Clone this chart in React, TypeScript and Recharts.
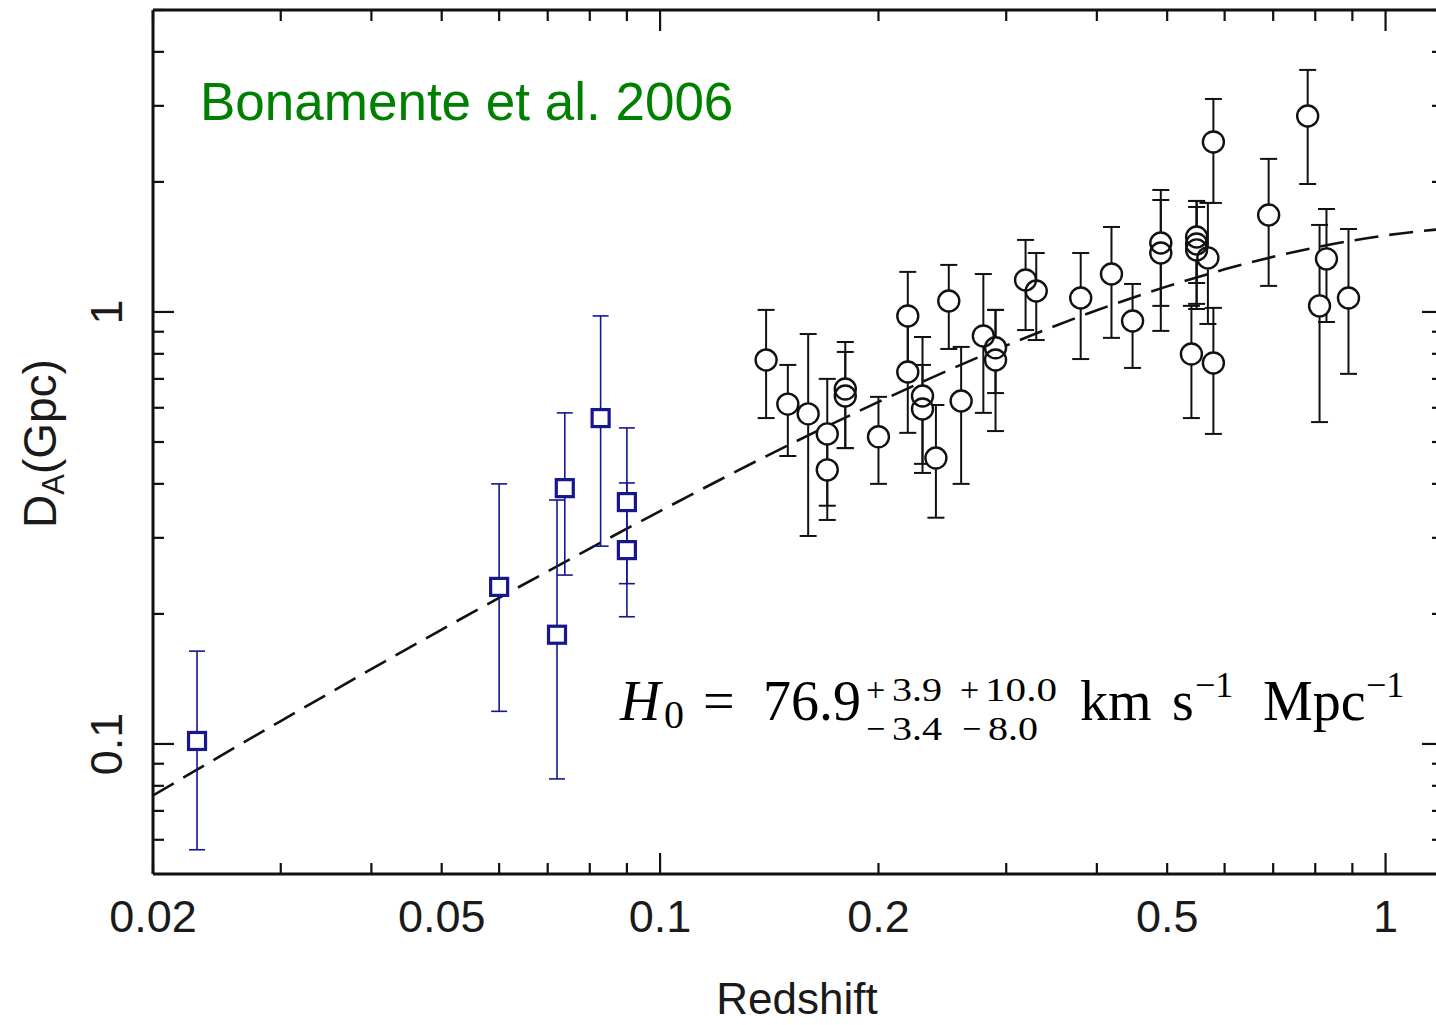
import React from "react";
import {
  ComposedChart,
  Scatter,
  Line,
  XAxis,
  YAxis,
  ErrorBar,
} from "recharts";

// low-z clusters (blue squares)
const LOWZ_Z = [0.023, 0.06, 0.0721, 0.0739, 0.0828, 0.09, 0.09];
const LOWZ_DA = [0.1016, 0.231, 0.179, 0.391, 0.568, 0.363, 0.281];
const LOWZ_LO = [0.0569, 0.119, 0.083, 0.246, 0.287, 0.235, 0.197];
const LOWZ_HI = [0.164, 0.4, 0.367, 0.584, 0.979, 0.539, 0.402];

// Chandra + SZ clusters (black circles)
const CL_Z = [
  0.14, 0.15, 0.16, 0.17, 0.17, 0.18, 0.18, 0.2, 0.2195, 0.2195, 0.23, 0.23,
  0.24, 0.25, 0.26, 0.279, 0.29, 0.29, 0.319, 0.33, 0.38, 0.419, 0.448, 0.49,
  0.49, 0.54, 0.549, 0.549, 0.549, 0.569, 0.579, 0.579, 0.69, 0.781, 0.811,
  0.829, 0.889,
];
const CL_DA = [
  0.774, 0.612, 0.581, 0.522, 0.431, 0.663, 0.639, 0.514, 0.979, 0.726, 0.639,
  0.596, 0.459, 1.06, 0.622, 0.88, 0.826, 0.774, 1.186, 1.118, 1.077, 1.224,
  0.953, 1.444, 1.369, 0.799, 1.491, 1.437, 1.392, 1.334, 2.475, 0.762, 1.677,
  2.842, 1.033, 1.327, 1.077,
];
const CL_LO = [
  0.568, 0.464, 0.303, 0.356, 0.33, 0.484, 0.484, 0.4, 0.726, 0.525, 0.445,
  0.424, 0.334, 0.821, 0.4, 0.584, 0.649, 0.53, 0.908, 0.861, 0.778, 0.871,
  0.742, 1.033, 0.904, 0.568, 1.167, 1.044, 1.016, 0.938, 1.788, 0.522, 1.149,
  1.978, 0.556, 0.948, 0.719,
];
const CL_HI = [
  1.011, 0.754, 0.889, 0.7, 0.522, 0.852, 0.808, 0.636, 1.238, 0.979, 0.875,
  0.754, 0.609, 1.285, 0.83, 1.224, 1.011, 1.011, 1.468, 1.369, 1.369, 1.573,
  1.161, 1.916, 1.816, 1.033, 1.807, 1.807, 1.75, 1.788, 3.112, 1.022, 2.261,
  3.633, 1.59, 1.731, 1.556,
];

// best-fit curve (dashed)
const MODEL_Z = [0.02, 0.03, 0.05, 0.07, 0.1, 0.15, 0.2, 0.3, 0.4, 0.5, 0.6, 0.7, 0.8, 0.9, 1.0, 1.2];
const MODEL_DA = [0.076, 0.113, 0.184, 0.251, 0.346, 0.491, 0.619, 0.836, 1.009, 1.146, 1.255, 1.342, 1.41, 1.463, 1.504, 1.557];

const X_TICKS = [
  0.02, 0.03, 0.04, 0.05, 0.06, 0.07, 0.08, 0.09, 0.1, 0.2, 0.3, 0.4, 0.5, 0.6,
  0.7, 0.8, 0.9, 1,
];
const X_LABELS = [0.02, 0.05, 0.1, 0.2, 0.5, 1];
const Y_TICKS = [
  0.06, 0.07, 0.08, 0.09, 0.1, 0.2, 0.3, 0.4, 0.5, 0.6, 0.7, 0.8, 0.9, 1, 2, 3,
  4, 5,
];
const Y_LABELS = [0.1, 1];
const MAJOR = [0.1, 1];

const INK = "#111";
const BLUE = "#16168e";
const SANS = "'Liberation Sans', Arial, Helvetica, sans-serif";
const SERIF = "'Liberation Serif', 'Times New Roman', serif";

const lowz = LOWZ_Z.map((x, i) => ({
  x,
  y: LOWZ_DA[i],
  err: [LOWZ_DA[i] - LOWZ_LO[i], LOWZ_HI[i] - LOWZ_DA[i]],
}));
const clusters = CL_Z.map((x, i) => ({
  x,
  y: CL_DA[i],
  err: [CL_DA[i] - CL_LO[i], CL_HI[i] - CL_DA[i]],
}));
const model = MODEL_Z.map((x, i) => ({ x, y: MODEL_DA[i] }));

const tickLen = (v: number) => (MAJOR.includes(v) ? 21 : 11);

const BottomTick = (p: any) => {
  const v = p.payload.value;
  return (
    <g>
      <line x1={p.x} x2={p.x} y1={p.y} y2={p.y - tickLen(v)} stroke={INK} strokeWidth={2.2} />
      {X_LABELS.includes(v) && (
        <text x={p.x} y={p.y + 58} textAnchor="middle" fontSize={45} fontFamily={SANS} fill="#1a1a1a">
          {String(v)}
        </text>
      )}
    </g>
  );
};

const TopTick = (p: any) => {
  const v = p.payload.value;
  return <line x1={p.x} x2={p.x} y1={p.y} y2={p.y + tickLen(v)} stroke={INK} strokeWidth={2.2} />;
};

const LeftTick = (p: any) => {
  const v = p.payload.value;
  return (
    <g>
      <line x1={p.x} x2={p.x + tickLen(v)} y1={p.y} y2={p.y} stroke={INK} strokeWidth={2.2} />
      {Y_LABELS.includes(v) && (
        <text
          x={122}
          y={p.y}
          transform={`rotate(-90 122 ${p.y})`}
          textAnchor="middle"
          fontSize={45}
          fontFamily={SANS}
          fill="#1a1a1a"
        >
          {String(v)}
        </text>
      )}
    </g>
  );
};

const RightTick = (p: any) => {
  const v = p.payload.value;
  return <line x1={p.x} x2={p.x - tickLen(v)} y1={p.y} y2={p.y} stroke={INK} strokeWidth={2.2} />;
};

const Nothing = () => <g />;
const Disk = (p: any) => <circle cx={p.cx} cy={p.cy} r={10.5} fill="#fff" />;
const Ring = (p: any) => (
  <circle cx={p.cx} cy={p.cy} r={10.5} fill="none" stroke={INK} strokeWidth={2.4} />
);
const SquareFill = (p: any) => (
  <rect x={p.cx - 8.5} y={p.cy - 8.5} width={17} height={17} fill="#fff" />
);
const SquareRing = (p: any) => (
  <rect x={p.cx - 8.5} y={p.cy - 8.5} width={17} height={17} fill="none" stroke={BLUE} strokeWidth={3.2} />
);

const axisLine = { stroke: INK, strokeWidth: 3 };

export default function App() {
  return (
    <div
      style={{
        position: "absolute",
        left: 0,
        top: 0,
        width: 1436,
        height: 1025,
        overflow: "hidden",
        background: "#fff",
      }}
    >
      <ComposedChart
        width={1460}
        height={1025}
        margin={{ top: 9, right: 16, bottom: 150, left: 152 }}
      >
        <XAxis
          xAxisId="bottom"
          dataKey="x"
          type="number"
          scale="log"
          domain={[0.02, 1.2]}
          allowDataOverflow
          ticks={X_TICKS}
          interval={0}
          height={1}
          tickSize={0}
          tickMargin={0}
          tickLine={false}
          axisLine={axisLine}
          tick={BottomTick}
        />
        <XAxis
          xAxisId="top"
          orientation="top"
          dataKey="x"
          type="number"
          scale="log"
          domain={[0.02, 1.2]}
          allowDataOverflow
          ticks={X_TICKS}
          interval={0}
          height={1}
          tickSize={0}
          tickMargin={0}
          tickLine={false}
          axisLine={axisLine}
          tick={TopTick}
        />
        <YAxis
          yAxisId="left"
          dataKey="y"
          type="number"
          scale="log"
          domain={[0.05, 5]}
          allowDataOverflow
          ticks={Y_TICKS}
          interval={0}
          width={1}
          tickSize={0}
          tickMargin={0}
          tickLine={false}
          axisLine={axisLine}
          tick={LeftTick}
        />
        <YAxis
          yAxisId="right"
          orientation="right"
          dataKey="y"
          type="number"
          scale="log"
          domain={[0.05, 5]}
          allowDataOverflow
          ticks={Y_TICKS}
          interval={0}
          width={1}
          tickSize={0}
          tickMargin={0}
          tickLine={false}
          axisLine={axisLine}
          tick={RightTick}
        />

        <Line
          xAxisId="bottom"
          yAxisId="left"
          data={model}
          dataKey="y"
          type="monotone"
          stroke={INK}
          strokeWidth={2.6}
          strokeDasharray="24 11"
          dot={false}
          activeDot={false}
          isAnimationActive={false}
        />

        {/* error bars first, then white fill, then outline on top */}
        <Scatter xAxisId="bottom" yAxisId="left" data={lowz} dataKey="y" shape={Nothing} isAnimationActive={false}>
          <ErrorBar dataKey="err" direction="y" width={8} stroke={BLUE} strokeWidth={1.6} isAnimationActive={false} />
        </Scatter>
        <Scatter xAxisId="bottom" yAxisId="left" data={clusters} dataKey="y" shape={Nothing} isAnimationActive={false}>
          <ErrorBar dataKey="err" direction="y" width={8.5} stroke={INK} strokeWidth={2} isAnimationActive={false} />
        </Scatter>
        <Scatter xAxisId="bottom" yAxisId="left" data={lowz} dataKey="y" shape={SquareFill} isAnimationActive={false} />
        <Scatter xAxisId="bottom" yAxisId="left" data={clusters} dataKey="y" shape={Disk} isAnimationActive={false} />
        <Scatter xAxisId="bottom" yAxisId="left" data={lowz} dataKey="y" shape={SquareRing} isAnimationActive={false} />
        <Scatter xAxisId="bottom" yAxisId="left" data={clusters} dataKey="y" shape={Ring} isAnimationActive={false} />
      </ComposedChart>

      <svg
        width={1436}
        height={1025}
        style={{ position: "absolute", left: 0, top: 0, pointerEvents: "none" }}
      >
        <text x={200} y={120} fontSize={53} fontFamily={SANS} fill="#008000">
          Bonamente et al. 2006
        </text>

        <text x={797} y={1014} textAnchor="middle" fontSize={44} fontFamily={SANS} fill="#1a1a1a">
          Redshift
        </text>

        <text
          x={56}
          y={528}
          transform="rotate(-90 56 528)"
          fontSize={46}
          fontFamily={SANS}
          fill="#1a1a1a"
        >
          D
          <tspan fontSize={31} dy={8}>A</tspan>
          <tspan dy={-8}>(Gpc)</tspan>
        </text>

        <g fontFamily={SERIF} fill="#000">
          <text x={620} y={720} fontSize={56} fontStyle="italic">H</text>
          <text x={664} y={728} fontSize={40}>0</text>
          <text x={703} y={720} fontSize={56}>=</text>
          <text x={763} y={720} fontSize={56}>76.9</text>
          <text x={866} y={701} fontSize={34}>+</text>
          <text x={892} y={701} fontSize={34} textLength={50} lengthAdjust="spacingAndGlyphs">3.9</text>
          <text x={960} y={701} fontSize={34}>+</text>
          <text x={985} y={701} fontSize={34} textLength={72} lengthAdjust="spacingAndGlyphs">10.0</text>
          <text x={866} y={740} fontSize={34}>{"\u2212"}</text>
          <text x={892} y={740} fontSize={34} textLength={50} lengthAdjust="spacingAndGlyphs">3.4</text>
          <text x={962} y={740} fontSize={34}>{"\u2212"}</text>
          <text x={988} y={740} fontSize={34} textLength={50} lengthAdjust="spacingAndGlyphs">8.0</text>
          <text x={1080} y={720} fontSize={56}>km</text>
          <text x={1172} y={720} fontSize={56}>s</text>
          <text x={1195} y={697} fontSize={36}>{"\u22121"}</text>
          <text x={1263} y={720} fontSize={56}>Mpc</text>
          <text x={1366} y={697} fontSize={36}>{"\u22121"}</text>
        </g>
      </svg>
    </div>
  );
}
